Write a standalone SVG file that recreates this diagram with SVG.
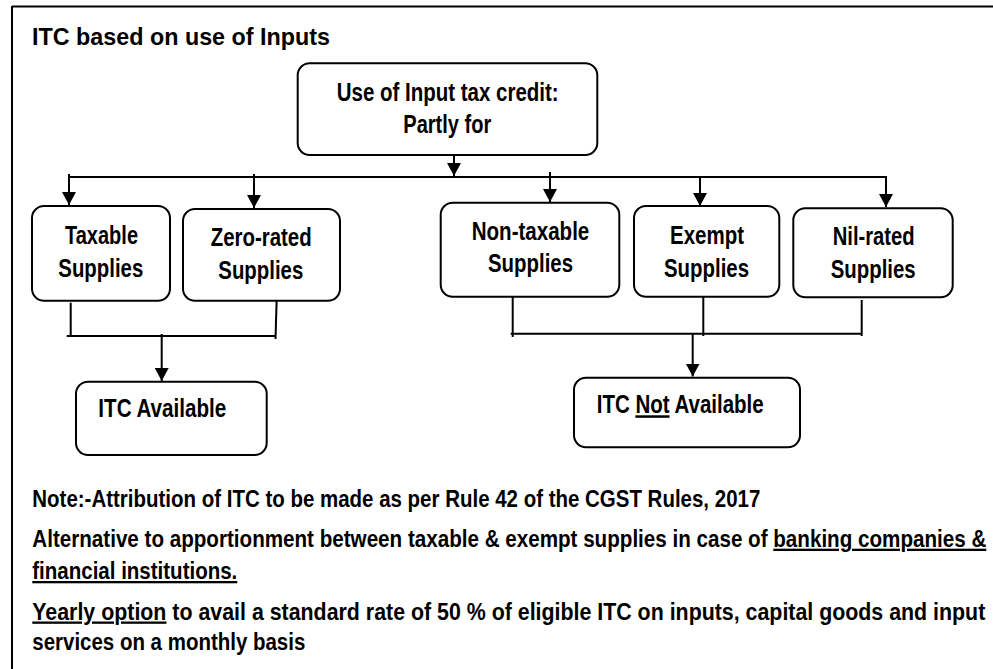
<svg xmlns="http://www.w3.org/2000/svg" width="993" height="669" viewBox="0 0 993 669">
<style>
.box{fill:#fff;stroke:#000;stroke-width:2}
.t{font-family:"Liberation Sans",Arial,sans-serif;font-weight:bold;fill:#000}
.n{font-size:25px}
.s{font-size:23px}
.h{font-size:24px}
.ln{stroke:#000;stroke-width:2;fill:none}
.u{text-decoration:underline}
</style>
<defs>
<marker id="ah" markerUnits="userSpaceOnUse" viewBox="0 0 13 14" refX="13" refY="7" markerWidth="13" markerHeight="14" orient="auto">
<path d="M0,0 L13,7 L0,14 z" fill="#000"/>
</marker>
</defs>
<rect width="993" height="669" fill="#fff"/>
<g id="frame">
<line class="ln" x1="12" y1="6.5" x2="993" y2="6.5"/>
<line class="ln" x1="12" y1="6" x2="12" y2="669"/>
</g>
<text class="t h" x="32" y="45" textLength="298" lengthAdjust="spacingAndGlyphs">ITC based on use of Inputs</text>
<g id="connectors">
<line class="ln" x1="454" y1="155" x2="454" y2="176" marker-end="url(#ah)"/>
<line class="ln" x1="68" y1="177" x2="887" y2="177"/>
<line class="ln" x1="69" y1="174" x2="69" y2="205" marker-end="url(#ah)"/>
<line class="ln" x1="254" y1="174" x2="254" y2="208" marker-end="url(#ah)"/>
<line class="ln" x1="550" y1="172" x2="550" y2="202" marker-end="url(#ah)"/>
<line class="ln" x1="700" y1="176" x2="700" y2="206" marker-end="url(#ah)"/>
<line class="ln" x1="886" y1="176" x2="886" y2="207" marker-end="url(#ah)"/>
<line class="ln" x1="70.7" y1="302.7" x2="70.7" y2="336"/>
<line class="ln" x1="276.7" y1="298" x2="275.5" y2="339"/>
<line class="ln" x1="66.7" y1="336" x2="276" y2="336"/>
<line class="ln" x1="161.7" y1="334" x2="161.7" y2="381" marker-end="url(#ah)"/>
<line class="ln" x1="512.7" y1="297" x2="512.7" y2="337"/>
<line class="ln" x1="703.3" y1="297" x2="703.3" y2="336"/>
<line class="ln" x1="861.7" y1="300" x2="861.7" y2="336"/>
<line class="ln" x1="510.7" y1="333.7" x2="861.7" y2="333.7"/>
<line class="ln" x1="692.7" y1="333" x2="692.7" y2="376.5" marker-end="url(#ah)"/>
</g>
<g id="use-itc">
<rect class="box" x="297.7" y="63.3" width="299.6" height="91.7" rx="12"/>
<text class="t n" x="336.7" y="100.7" textLength="222" lengthAdjust="spacingAndGlyphs">Use of Input tax credit:</text>
<text class="t n" x="403.3" y="133.3" textLength="88" lengthAdjust="spacingAndGlyphs">Partly for</text>
</g>
<g id="taxable">
<rect class="box" x="32" y="206" width="138" height="94.7" rx="12"/>
<text class="t n" x="65" y="244" textLength="73" lengthAdjust="spacingAndGlyphs">Taxable</text>
<text class="t n" x="58.3" y="277" textLength="85" lengthAdjust="spacingAndGlyphs">Supplies</text>
</g>
<g id="zero-rated">
<rect class="box" x="183" y="209" width="157" height="91.7" rx="12"/>
<text class="t n" x="210.7" y="246" textLength="101" lengthAdjust="spacingAndGlyphs">Zero-rated</text>
<text class="t n" x="218.3" y="279" textLength="85" lengthAdjust="spacingAndGlyphs">Supplies</text>
</g>
<g id="non-taxable">
<rect class="box" x="440.7" y="202.7" width="178.6" height="94" rx="12"/>
<text class="t n" x="471.7" y="240" textLength="117.6" lengthAdjust="spacingAndGlyphs">Non-taxable</text>
<text class="t n" x="488" y="272" textLength="85" lengthAdjust="spacingAndGlyphs">Supplies</text>
</g>
<g id="exempt">
<rect class="box" x="634" y="206" width="145.3" height="90.7" rx="12"/>
<text class="t n" x="670" y="244" textLength="74" lengthAdjust="spacingAndGlyphs">Exempt</text>
<text class="t n" x="664" y="276.7" textLength="85" lengthAdjust="spacingAndGlyphs">Supplies</text>
</g>
<g id="nil-rated">
<rect class="box" x="793.3" y="208.3" width="159.4" height="89" rx="12"/>
<text class="t n" x="832.7" y="245" textLength="82" lengthAdjust="spacingAndGlyphs">Nil-rated</text>
<text class="t n" x="830.7" y="278" textLength="85" lengthAdjust="spacingAndGlyphs">Supplies</text>
</g>
<g id="itc-available">
<rect class="box" x="76" y="381.7" width="190.7" height="73.3" rx="12"/>
<text class="t n" x="98.3" y="417.3" textLength="128" lengthAdjust="spacingAndGlyphs">ITC Available</text>
</g>
<g id="itc-not-available">
<rect class="box" x="574" y="377.7" width="226" height="69.6" rx="12"/>
<text class="t n" x="596.7" y="413.3" textLength="167" lengthAdjust="spacingAndGlyphs">ITC <tspan class="u">Not</tspan> Available</text>
</g>
<g id="notes">
<text class="t s" x="32.3" y="506.7" textLength="728" lengthAdjust="spacingAndGlyphs">Note:-Attribution of ITC to be made as per Rule 42 of the CGST Rules, 2017</text>
<text class="t s" x="32.3" y="546.7" textLength="954" lengthAdjust="spacingAndGlyphs">Alternative to apportionment between taxable &amp; exempt supplies in case of <tspan class="u">banking companies &amp;</tspan></text>
<text class="t s" x="32.3" y="579" textLength="205" lengthAdjust="spacingAndGlyphs"><tspan class="u">financial institutions.</tspan></text>
<text class="t s" x="32.3" y="619.5" textLength="953" lengthAdjust="spacingAndGlyphs"><tspan class="u">Yearly option</tspan> to avail a standard rate of 50 % of eligible ITC on inputs, capital goods and input</text>
<text class="t s" x="32.3" y="650" textLength="273" lengthAdjust="spacingAndGlyphs">services on a monthly basis</text>
</g>
</svg>
